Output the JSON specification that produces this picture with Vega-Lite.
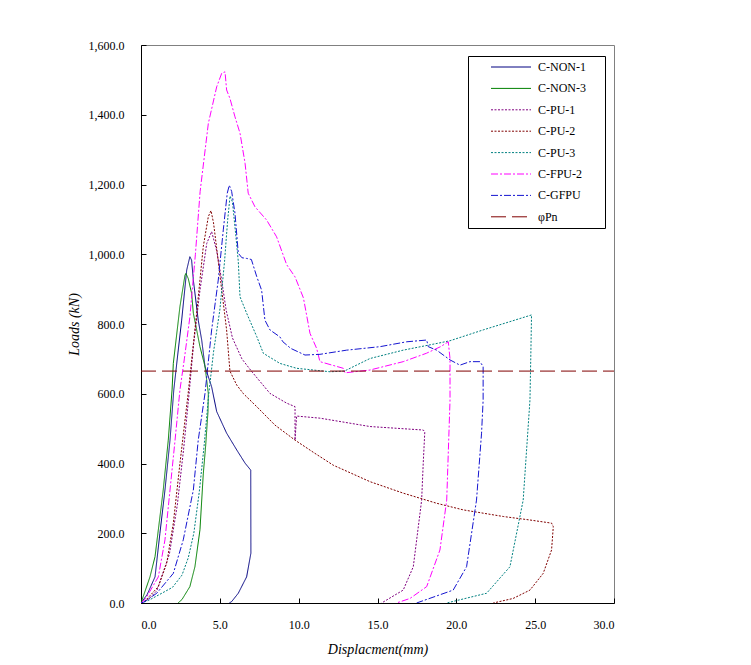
{
  "$schema": "https://vega.github.io/schema/vega-lite/v6.json",
  "autosize": {"type": "none"},
  "padding": {"left": 141, "top": 45, "right": 137, "bottom": 62},
  "width": 473,
  "height": 558,
  "background": "white",
  "config": {
    "view": {"stroke": "#808080", "strokeWidth": 1},
    "font": "Liberation Serif"
  },
  "datasets": {
    "curves": [
      {"s":"C-NON-1","i":0,"x":0,"y":0},{"s":"C-NON-1","i":1,"x":0.4,"y":25},{"s":"C-NON-1","i":2,"x":0.89,"y":75},{"s":"C-NON-1","i":3,"x":1.2,"y":200},{"s":"C-NON-1","i":4,"x":1.52,"y":324},{"s":"C-NON-1","i":5,"x":1.84,"y":467},{"s":"C-NON-1","i":6,"x":2.08,"y":611},{"s":"C-NON-1","i":7,"x":2.3,"y":700},{"s":"C-NON-1","i":8,"x":2.58,"y":811},{"s":"C-NON-1","i":9,"x":2.9,"y":955},{"s":"C-NON-1","i":10,"x":3.1,"y":993},{"s":"C-NON-1","i":11,"x":3.21,"y":983},{"s":"C-NON-1","i":12,"x":3.32,"y":926},{"s":"C-NON-1","i":13,"x":3.63,"y":811},{"s":"C-NON-1","i":14,"x":3.85,"y":754},{"s":"C-NON-1","i":15,"x":4.06,"y":678},{"s":"C-NON-1","i":16,"x":4.48,"y":620},{"s":"C-NON-1","i":17,"x":4.8,"y":549},{"s":"C-NON-1","i":18,"x":5.43,"y":487},{"s":"C-NON-1","i":19,"x":6.07,"y":439},{"s":"C-NON-1","i":20,"x":6.6,"y":401},{"s":"C-NON-1","i":21,"x":6.96,"y":381},{"s":"C-NON-1","i":22,"x":6.97,"y":143},{"s":"C-NON-1","i":23,"x":6.7,"y":75},{"s":"C-NON-1","i":24,"x":6.17,"y":28},{"s":"C-NON-1","i":25,"x":5.75,"y":4},{"s":"C-NON-1","i":26,"x":5.6,"y":0},

      {"s":"C-NON-3","i":0,"x":0,"y":0},{"s":"C-NON-3","i":1,"x":0.57,"y":75},{"s":"C-NON-3","i":2,"x":0.89,"y":133},{"s":"C-NON-3","i":3,"x":1.41,"y":324},{"s":"C-NON-3","i":4,"x":1.73,"y":467},{"s":"C-NON-3","i":5,"x":1.97,"y":611},{"s":"C-NON-3","i":6,"x":2.05,"y":687},{"s":"C-NON-3","i":7,"x":2.47,"y":850},{"s":"C-NON-3","i":8,"x":2.79,"y":940},{"s":"C-NON-3","i":9,"x":2.85,"y":945},{"s":"C-NON-3","i":10,"x":3.0,"y":930},{"s":"C-NON-3","i":11,"x":3.21,"y":888},{"s":"C-NON-3","i":12,"x":3.32,"y":831},{"s":"C-NON-3","i":13,"x":3.74,"y":735},{"s":"C-NON-3","i":14,"x":4.06,"y":678},{"s":"C-NON-3","i":15,"x":4.27,"y":601},{"s":"C-NON-3","i":16,"x":4.25,"y":550},{"s":"C-NON-3","i":17,"x":4.1,"y":450},{"s":"C-NON-3","i":18,"x":3.95,"y":370},{"s":"C-NON-3","i":19,"x":3.74,"y":210},{"s":"C-NON-3","i":20,"x":3.42,"y":104},{"s":"C-NON-3","i":21,"x":3.1,"y":47},{"s":"C-NON-3","i":22,"x":2.6,"y":10},{"s":"C-NON-3","i":23,"x":2.35,"y":0},

      {"s":"C-PU-1","i":0,"x":0,"y":0},{"s":"C-PU-1","i":1,"x":0.5,"y":12},{"s":"C-PU-1","i":2,"x":1.0,"y":35},{"s":"C-PU-1","i":3,"x":1.8,"y":140},{"s":"C-PU-1","i":4,"x":2.3,"y":280},{"s":"C-PU-1","i":5,"x":2.7,"y":440},{"s":"C-PU-1","i":6,"x":3.05,"y":600},{"s":"C-PU-1","i":7,"x":3.32,"y":735},{"s":"C-PU-1","i":8,"x":3.74,"y":897},{"s":"C-PU-1","i":9,"x":4.17,"y":1031},{"s":"C-PU-1","i":10,"x":4.48,"y":1065},{"s":"C-PU-1","i":11,"x":4.8,"y":1010},{"s":"C-PU-1","i":12,"x":5.1,"y":930},{"s":"C-PU-1","i":13,"x":5.4,"y":840},{"s":"C-PU-1","i":14,"x":5.8,"y":760},{"s":"C-PU-1","i":15,"x":6.4,"y":700},{"s":"C-PU-1","i":16,"x":7.0,"y":665},{"s":"C-PU-1","i":17,"x":8.18,"y":601},{"s":"C-PU-1","i":18,"x":9.24,"y":573},{"s":"C-PU-1","i":19,"x":9.77,"y":563},{"s":"C-PU-1","i":20,"x":9.77,"y":467},{"s":"C-PU-1","i":21,"x":9.87,"y":536},{"s":"C-PU-1","i":22,"x":11.35,"y":530},{"s":"C-PU-1","i":23,"x":14.52,"y":506},{"s":"C-PU-1","i":24,"x":17.9,"y":496},{"s":"C-PU-1","i":25,"x":18.0,"y":491},{"s":"C-PU-1","i":26,"x":17.9,"y":400},{"s":"C-PU-1","i":27,"x":17.8,"y":295},{"s":"C-PU-1","i":28,"x":17.27,"y":104},{"s":"C-PU-1","i":29,"x":16.63,"y":37},{"s":"C-PU-1","i":30,"x":15.26,"y":0},

      {"s":"C-PU-2","i":0,"x":0,"y":0},{"s":"C-PU-2","i":1,"x":0.2,"y":3},{"s":"C-PU-2","i":2,"x":1.1,"y":47},{"s":"C-PU-2","i":3,"x":1.63,"y":114},{"s":"C-PU-2","i":4,"x":2.05,"y":229},{"s":"C-PU-2","i":5,"x":2.47,"y":400},{"s":"C-PU-2","i":6,"x":3.0,"y":605},{"s":"C-PU-2","i":7,"x":3.53,"y":831},{"s":"C-PU-2","i":8,"x":3.95,"y":1022},{"s":"C-PU-2","i":9,"x":4.27,"y":1108},{"s":"C-PU-2","i":10,"x":4.44,"y":1125},{"s":"C-PU-2","i":11,"x":4.6,"y":1090},{"s":"C-PU-2","i":12,"x":4.9,"y":980},{"s":"C-PU-2","i":13,"x":5.12,"y":897},{"s":"C-PU-2","i":14,"x":5.43,"y":783},{"s":"C-PU-2","i":15,"x":5.64,"y":665},{"s":"C-PU-2","i":16,"x":6.07,"y":625},{"s":"C-PU-2","i":17,"x":6.5,"y":600},{"s":"C-PU-2","i":18,"x":7.34,"y":563},{"s":"C-PU-2","i":19,"x":8.5,"y":510},{"s":"C-PU-2","i":20,"x":9.77,"y":467},{"s":"C-PU-2","i":21,"x":11.0,"y":430},{"s":"C-PU-2","i":22,"x":12.2,"y":395},{"s":"C-PU-2","i":23,"x":14.52,"y":348},{"s":"C-PU-2","i":24,"x":16.63,"y":315},{"s":"C-PU-2","i":25,"x":18.75,"y":286},{"s":"C-PU-2","i":26,"x":20.44,"y":267},{"s":"C-PU-2","i":27,"x":22.98,"y":248},{"s":"C-PU-2","i":28,"x":24.67,"y":238},{"s":"C-PU-2","i":29,"x":26.04,"y":229},{"s":"C-PU-2","i":30,"x":26.15,"y":219},{"s":"C-PU-2","i":31,"x":26.04,"y":152},{"s":"C-PU-2","i":32,"x":25.51,"y":85},{"s":"C-PU-2","i":33,"x":24.67,"y":37},{"s":"C-PU-2","i":34,"x":23.6,"y":13},{"s":"C-PU-2","i":35,"x":22.34,"y":0},

      {"s":"C-PU-3","i":0,"x":0,"y":0},{"s":"C-PU-3","i":1,"x":0.5,"y":8},{"s":"C-PU-3","i":2,"x":1.2,"y":25},{"s":"C-PU-3","i":3,"x":2.0,"y":45},{"s":"C-PU-3","i":4,"x":2.6,"y":80},{"s":"C-PU-3","i":5,"x":3.0,"y":130},{"s":"C-PU-3","i":6,"x":3.35,"y":200},{"s":"C-PU-3","i":7,"x":3.7,"y":320},{"s":"C-PU-3","i":8,"x":4.0,"y":450},{"s":"C-PU-3","i":9,"x":4.3,"y":600},{"s":"C-PU-3","i":10,"x":4.6,"y":720},{"s":"C-PU-3","i":11,"x":5.0,"y":840},{"s":"C-PU-3","i":12,"x":5.3,"y":980},{"s":"C-PU-3","i":13,"x":5.5,"y":1100},{"s":"C-PU-3","i":14,"x":5.65,"y":1167},{"s":"C-PU-3","i":15,"x":5.8,"y":1150},{"s":"C-PU-3","i":16,"x":6.0,"y":1060},{"s":"C-PU-3","i":17,"x":6.17,"y":980},{"s":"C-PU-3","i":18,"x":6.28,"y":878},{"s":"C-PU-3","i":19,"x":6.7,"y":831},{"s":"C-PU-3","i":20,"x":7.34,"y":764},{"s":"C-PU-3","i":21,"x":7.76,"y":716},{"s":"C-PU-3","i":22,"x":8.81,"y":687},{"s":"C-PU-3","i":23,"x":9.87,"y":673},{"s":"C-PU-3","i":24,"x":12.0,"y":663},{"s":"C-PU-3","i":25,"x":12.9,"y":665},{"s":"C-PU-3","i":26,"x":14.52,"y":701},{"s":"C-PU-3","i":27,"x":16.63,"y":725},{"s":"C-PU-3","i":28,"x":18.85,"y":745},{"s":"C-PU-3","i":29,"x":19.6,"y":752},{"s":"C-PU-3","i":30,"x":21.7,"y":783},{"s":"C-PU-3","i":31,"x":24.77,"y":826},{"s":"C-PU-3","i":32,"x":24.72,"y":700},{"s":"C-PU-3","i":33,"x":24.67,"y":582},{"s":"C-PU-3","i":34,"x":24.24,"y":295},{"s":"C-PU-3","i":35,"x":23.4,"y":104},{"s":"C-PU-3","i":36,"x":21.92,"y":28},{"s":"C-PU-3","i":37,"x":19.39,"y":0},

      {"s":"C-FPU-2","i":0,"x":0,"y":0},{"s":"C-FPU-2","i":1,"x":0.3,"y":13},{"s":"C-FPU-2","i":2,"x":1.1,"y":75},{"s":"C-FPU-2","i":3,"x":1.52,"y":181},{"s":"C-FPU-2","i":4,"x":1.84,"y":324},{"s":"C-FPU-2","i":5,"x":2.16,"y":467},{"s":"C-FPU-2","i":6,"x":2.47,"y":611},{"s":"C-FPU-2","i":7,"x":2.75,"y":700},{"s":"C-FPU-2","i":8,"x":3.1,"y":820},{"s":"C-FPU-2","i":9,"x":3.45,"y":1000},{"s":"C-FPU-2","i":10,"x":3.75,"y":1180},{"s":"C-FPU-2","i":11,"x":4.27,"y":1375},{"s":"C-FPU-2","i":12,"x":4.8,"y":1480},{"s":"C-FPU-2","i":13,"x":5.12,"y":1519},{"s":"C-FPU-2","i":14,"x":5.33,"y":1523},{"s":"C-FPU-2","i":15,"x":5.43,"y":1471},{"s":"C-FPU-2","i":16,"x":5.64,"y":1447},{"s":"C-FPU-2","i":17,"x":5.96,"y":1394},{"s":"C-FPU-2","i":18,"x":6.28,"y":1347},{"s":"C-FPU-2","i":19,"x":6.6,"y":1261},{"s":"C-FPU-2","i":20,"x":6.8,"y":1175},{"s":"C-FPU-2","i":21,"x":7.23,"y":1136},{"s":"C-FPU-2","i":22,"x":7.97,"y":1098},{"s":"C-FPU-2","i":23,"x":8.6,"y":1050},{"s":"C-FPU-2","i":24,"x":9.24,"y":970},{"s":"C-FPU-2","i":25,"x":9.77,"y":935},{"s":"C-FPU-2","i":26,"x":10.3,"y":875},{"s":"C-FPU-2","i":27,"x":10.72,"y":773},{"s":"C-FPU-2","i":28,"x":11.14,"y":730},{"s":"C-FPU-2","i":29,"x":11.35,"y":692},{"s":"C-FPU-2","i":30,"x":12.83,"y":673},{"s":"C-FPU-2","i":31,"x":12.94,"y":660},{"s":"C-FPU-2","i":32,"x":14.52,"y":668},{"s":"C-FPU-2","i":33,"x":16.63,"y":692},{"s":"C-FPU-2","i":34,"x":18.1,"y":716},{"s":"C-FPU-2","i":35,"x":19.0,"y":735},{"s":"C-FPU-2","i":36,"x":19.49,"y":749},{"s":"C-FPU-2","i":37,"x":19.6,"y":700},{"s":"C-FPU-2","i":38,"x":19.6,"y":582},{"s":"C-FPU-2","i":39,"x":19.39,"y":295},{"s":"C-FPU-2","i":40,"x":18.96,"y":152},{"s":"C-FPU-2","i":41,"x":18.12,"y":47},{"s":"C-FPU-2","i":42,"x":17.06,"y":13},{"s":"C-FPU-2","i":43,"x":16.2,"y":0},

      {"s":"C-GFPU","i":0,"x":0,"y":0},{"s":"C-GFPU","i":1,"x":0.2,"y":3},{"s":"C-GFPU","i":2,"x":1.0,"y":28},{"s":"C-GFPU","i":3,"x":2.05,"y":85},{"s":"C-GFPU","i":4,"x":2.68,"y":181},{"s":"C-GFPU","i":5,"x":3.32,"y":324},{"s":"C-GFPU","i":6,"x":3.63,"y":467},{"s":"C-GFPU","i":7,"x":4.06,"y":601},{"s":"C-GFPU","i":8,"x":4.48,"y":783},{"s":"C-GFPU","i":9,"x":4.9,"y":926},{"s":"C-GFPU","i":10,"x":5.22,"y":1070},{"s":"C-GFPU","i":11,"x":5.47,"y":1175},{"s":"C-GFPU","i":12,"x":5.6,"y":1198},{"s":"C-GFPU","i":13,"x":5.75,"y":1180},{"s":"C-GFPU","i":14,"x":5.96,"y":1118},{"s":"C-GFPU","i":15,"x":6.17,"y":1003},{"s":"C-GFPU","i":16,"x":6.4,"y":990},{"s":"C-GFPU","i":17,"x":6.7,"y":988},{"s":"C-GFPU","i":18,"x":7.0,"y":985},{"s":"C-GFPU","i":19,"x":7.34,"y":936},{"s":"C-GFPU","i":20,"x":7.65,"y":897},{"s":"C-GFPU","i":21,"x":7.86,"y":811},{"s":"C-GFPU","i":22,"x":8.18,"y":783},{"s":"C-GFPU","i":23,"x":8.81,"y":763},{"s":"C-GFPU","i":24,"x":9.0,"y":749},{"s":"C-GFPU","i":25,"x":9.5,"y":730},{"s":"C-GFPU","i":26,"x":10.4,"y":711},{"s":"C-GFPU","i":27,"x":11.35,"y":713},{"s":"C-GFPU","i":28,"x":13.04,"y":725},{"s":"C-GFPU","i":29,"x":15.16,"y":735},{"s":"C-GFPU","i":30,"x":16.85,"y":749},{"s":"C-GFPU","i":31,"x":18.12,"y":754},{"s":"C-GFPU","i":32,"x":18.22,"y":735},{"s":"C-GFPU","i":33,"x":18.75,"y":725},{"s":"C-GFPU","i":34,"x":19.6,"y":697},{"s":"C-GFPU","i":35,"x":20.23,"y":682},{"s":"C-GFPU","i":36,"x":20.86,"y":692},{"s":"C-GFPU","i":37,"x":21.5,"y":692},{"s":"C-GFPU","i":38,"x":21.7,"y":678},{"s":"C-GFPU","i":39,"x":21.7,"y":582},{"s":"C-GFPU","i":40,"x":21.6,"y":487},{"s":"C-GFPU","i":41,"x":21.28,"y":295},{"s":"C-GFPU","i":42,"x":20.65,"y":104},{"s":"C-GFPU","i":43,"x":19.8,"y":37},{"s":"C-GFPU","i":44,"x":17.48,"y":0},

      {"s":"φPn","i":0,"x":0,"y":665},{"s":"φPn","i":1,"x":30,"y":665}
    ]
  },
  "data": {"name": "curves"},
  "mark": {"type": "line", "strokeWidth": 1, "clip": true},
  "encoding": {
    "x": {
      "field": "x", "type": "quantitative",
      "scale": {"domain": [0, 30], "nice": false, "zero": false},
      "axis": {
        "title": "Displacment(mm)", "values": [0, 5, 10, 15, 20, 25, 30], "format": ".1f",
        "grid": false, "domainColor": "black", "tickColor": "black", "tickSize": -5,
        "labelFont": "Liberation Serif", "labelFontSize": 12, "labelColor": "black", "labelPadding": 21,
        "titleFont": "Liberation Serif", "titleFontSize": 14, "titleFontStyle": "italic", "titleFontWeight": "normal", "titleColor": "black", "titlePadding": 12
      }
    },
    "y": {
      "field": "y", "type": "quantitative",
      "scale": {"domain": [0, 1600], "nice": false},
      "axis": {
        "title": "Loads (kN)", "values": [0, 200, 400, 600, 800, 1000, 1200, 1400, 1600], "format": ",.1f",
        "grid": false, "domainColor": "black", "tickColor": "black", "tickSize": -5,
        "labelFont": "Liberation Serif", "labelFontSize": 12, "labelColor": "black", "labelPadding": 22,
        "titleFont": "Liberation Serif", "titleFontSize": 14, "titleFontStyle": "italic", "titleFontWeight": "normal", "titleColor": "black", "titlePadding": 7
      }
    },
    "order": {"field": "i", "type": "quantitative"},
    "color": {
      "field": "s", "type": "nominal",
      "scale": {
        "domain": ["C-NON-1", "C-NON-3", "C-PU-1", "C-PU-2", "C-PU-3", "C-FPU-2", "C-GFPU", "φPn"],
        "range": ["#000080", "#008000", "#800080", "#800000", "#008080", "#FF00FF", "#1515D0", "#800000"]
      },
      "legend": {
        "title": "\u00a0\u00a0", "titleOrient": "right", "titlePadding": 14, "titleFontSize": 12,
        "orient": "none", "legendX": 327, "legendY": 11,
        "strokeColor": "black", "fillColor": "white", "padding": 5,
        "symbolType": "M-4,0H4", "symbolSize": 100, "symbolStrokeWidth": 1, "symbolOffset": 32,
        "labelFont": "Liberation Serif", "labelFontSize": 12, "labelColor": "black", "labelOffset": 21,
        "rowPadding": 9.4
      }
    },
    "strokeDash": {
      "field": "s", "type": "nominal",
      "scale": {
        "domain": ["C-NON-1", "C-NON-3", "C-PU-1", "C-PU-2", "C-PU-3", "C-FPU-2", "C-GFPU", "φPn"],
        "range": [[1, 0], [1, 0], [2, 1.5], [2, 1.5], [2, 1.5], [7, 2, 2, 2], [7, 2, 2, 2], [15, 6]]
      },
      "legend": null
    }
  }
}
